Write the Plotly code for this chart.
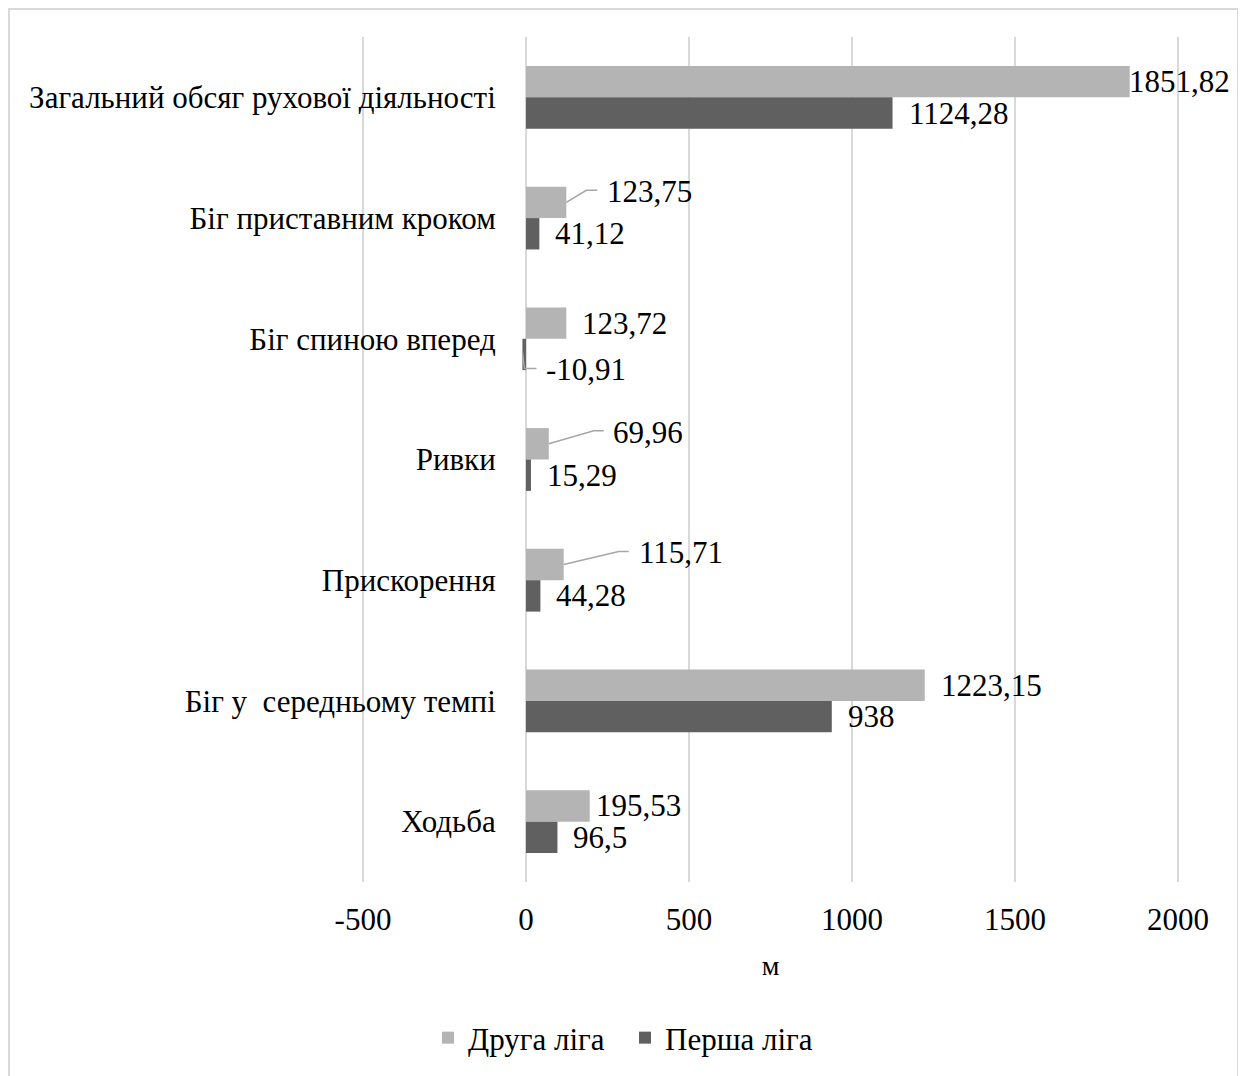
import plotly.graph_objects as go

# ---------------- data ----------------
categories = [
    "Загальний обсяг рухової діяльності",
    "Біг приставним кроком",
    "Біг спиною вперед",
    "Ривки",
    "Прискорення",
    "Біг у  середньому темпі",
    "Ходьба",
]
series_names = ["Друга ліга", "Перша ліга"]
druha_liga = [1851.82, 123.75, 123.72, 69.96, 115.71, 1223.15, 195.53]
persha_liga = [1124.28, 41.12, -10.91, 15.29, 44.28, 938, 96.5]
x_tickvals = [-500, 0, 500, 1000, 1500, 2000]
x_ticktext = ["-500", "0", "500", "1000", "1500", "2000"]
x_title = "м"

# ---------------- style ----------------
W, H = 1246, 1076
OFF = 8  # page body margin in the browser
# wanted plot-area edges in window pixels
PL, PR, PT, PB = 361, 1180, 37, 882
ML, MR, MT, MB = PL - OFF, W - (PR - OFF), PT - OFF, H - (PB - OFF)
XPAD = 6  # range padding so the edge gridlines are drawn (plotly skips lines <1px from edge)
FONT = "Liberation Serif"
FS = 31
COLORS = ["#b4b4b4", "#606060"]
GRID = "#d9d9d9"
LEADER = "#a6a6a6"
BAR_OFF = [15.7, -15.7]  # px from category centre to bar centre (up positive)

# label placement tweaks: (series, category) -> dict(dx, dy, path)
label_style = {
    (0, 0): dict(dx=-3),
    (0, 6): dict(dx=4),
    (0, 1): dict(dx=39, dy=11, path=[(0, 0), (20, 12), (31, 12)]),
    (0, 3): dict(dx=62, dy=11, path=[(0, 0), (45, 13), (55, 13)]),
    (0, 4): dict(dx=73, dy=12, path=[(0, 0), (55, 13), (65, 13)]),
    (1, 2): dict(dx=22, dy=-15, path=[(0, 3), (2, -14), (14, -14)]),
}
DEFAULT_DX = 14


def fmt(v):
    return f"{v:g}".replace(".", ",")


fig = go.Figure()
all_series = [druha_liga, persha_liga]
for name, vals, col in zip(series_names, all_series, COLORS):
    fig.add_trace(go.Bar(
        y=categories, x=vals, name=name, orientation="h",
        marker=dict(color=col, line=dict(width=0)),
        hoverinfo="x+y", showlegend=False,
    ))
# legend entries with larger square keys
for name, col in zip(series_names, COLORS):
    fig.add_trace(go.Scatter(
        x=[None], y=[None], mode="markers", name=name,
        marker=dict(symbol="square", size=15, color=col),
        showlegend=True,
    ))

annotations = []
shapes = []
for si, vals in enumerate(all_series):
    for ci, (cat, v) in enumerate(zip(categories, vals)):
        st = label_style.get((si, ci), {})
        dx = st.get("dx", DEFAULT_DX)
        dy = st.get("dy", 0)
        annotations.append(dict(
            x=v, y=cat, xref="x", yref="y", text=fmt(v), showarrow=False,
            xanchor="left", yanchor="middle", xshift=dx,
            yshift=BAR_OFF[si] + dy,
            font=dict(family=FONT, size=FS, color="black"),
        ))
        if "path" in st:
            pts = st["path"]
            p = "M" + " L".join(f"{px},{py + BAR_OFF[si]}" for px, py in pts)
            shapes.append(dict(
                type="path", xref="x", yref="y",
                xsizemode="pixel", ysizemode="pixel",
                xanchor=v, yanchor=cat, path=p,
                line=dict(color=LEADER, width=1.5),
            ))

# pixel (window) -> paper coordinates
pw, ph = PR - PL, PB - PT


def pxx(x):
    return (x - PL) / pw


def pxy(y):
    return (PB - y) / ph


# outer chart border
shapes.append(dict(
    type="rect", xref="paper", yref="paper", layer="below",
    x0=pxx(OFF + 1), x1=pxx(1238), y0=pxy(1090), y1=pxy(OFF + 1),
    line=dict(color=GRID, width=2), fillcolor="rgba(0,0,0,0)",
))

x0, x1 = x_tickvals[0] - XPAD, x_tickvals[-1] + XPAD
fig.update_layout(
    width=W, height=H,
    margin=dict(l=ML, r=MR, t=MT, b=MB, autoexpand=False),
    paper_bgcolor="white", plot_bgcolor="white",
    barmode="group", bargap=0.48, bargroupgap=0,
    font=dict(family=FONT, size=FS, color="black"),
    showlegend=True,
    legend=dict(
        orientation="h", x=pxx(428), xanchor="left",
        y=pxy(1038), yanchor="middle",
        font=dict(family=FONT, size=FS, color="black"),
        itemsizing="constant", traceorder="normal",
        entrywidth=152, entrywidthmode="pixels",
    ),
    xaxis=dict(
        range=[x0, x1], tickvals=x_tickvals, ticktext=x_ticktext,
        showgrid=True, gridcolor=GRID, gridwidth=2, zeroline=False,
        showline=False, ticks="outside", ticklen=10, tickcolor="rgba(0,0,0,0)",
        tickfont=dict(family=FONT, size=FS, color="black"),
        title=dict(text=x_title, font=dict(family=FONT, size=28, color="black"),
                   standoff=19),
        automargin=False, fixedrange=True,
    ),
    yaxis=dict(
        autorange="reversed", anchor="free",
        position=(0 - x0) / (x1 - x0),
        showgrid=False, zeroline=False, showline=False,
        ticks="outside", ticklen=24, tickcolor="rgba(0,0,0,0)",
        tickfont=dict(family=FONT, size=FS, color="black"),
        automargin=False, fixedrange=True,
    ),
    annotations=annotations,
    shapes=shapes,
)

fig.write_html("out.html")
